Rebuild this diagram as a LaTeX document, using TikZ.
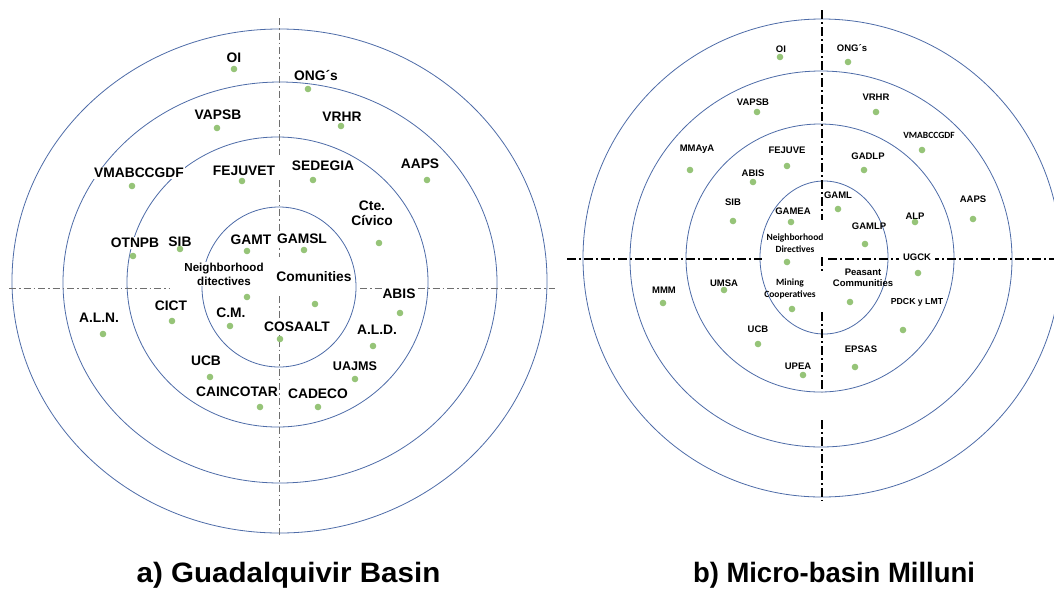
\documentclass[tikz,border=0pt]{standalone}
\usepackage{fontspec}
\setmainfont{Liberation Sans}
\newfontfamily\carl{Carlito}
\definecolor{ringblue}{RGB}{78,108,168}
\definecolor{dotgreen}{RGB}{150,196,120}
\definecolor{axisgray}{RGB}{110,110,110}
\tikzset{
  ring/.style={draw=ringblue, line width=0.8pt},
  axisL/.style={draw=axisgray, line width=0.8pt, dash pattern=on 7pt off 3pt on 1.5pt off 3pt},
  axisR/.style={draw=black, line width=1.2pt, dash pattern=on 9pt off 3pt on 2pt off 3pt},
  lblL/.style={font=\bfseries\fontsize{13.8}{15}\selectfont, fill=white, inner sep=1pt, align=center},
  lblLs/.style={font=\bfseries\fontsize{11.6}{14}\selectfont, fill=white, inner sep=1pt, align=center},
  lblR/.style={font=\bfseries\fontsize{9.5}{11.5}\selectfont, inner sep=1pt, align=center},
  lblRc/.style={font=\carl\bfseries\fontsize{9.5}{12}\selectfont, inner sep=1pt, align=center},
  dotL/.style={circle, fill=dotgreen, inner sep=0pt, minimum size=6.6pt},
  dotR/.style={circle, fill=dotgreen, inner sep=0pt, minimum size=6.6pt},
  ttl/.style={font=\bfseries\fontsize{28}{32}\selectfont, inner sep=0pt, anchor=base}
}
\begin{document}
\begin{tikzpicture}[x=1pt,y=-1pt]
\useasboundingbox (0,0) rectangle (1054,595);
\clip (0,0) rectangle (1054,595);
\fill[white] (0,0) rectangle (1054,595);
% ---------------- left diagram ----------------
\draw[ring] (279.5,281) ellipse [x radius=267.5pt, y radius=252pt];
\draw[ring] (280,282.5) ellipse [x radius=217pt, y radius=200.5pt];
\draw[ring] (277.5,282) ellipse [x radius=150.5pt, y radius=145pt];
\draw[ring] (279,287) ellipse [x radius=77pt, y radius=80pt];
\coordinate (lh1) at (9,288);   \coordinate (lh2) at (170,288);
\coordinate (lh3) at (360,288); \coordinate (lh4) at (555,288);
\coordinate (lv1) at (279,18);  \coordinate (lv2) at (279,155);
\coordinate (lv3) at (279,180); \coordinate (lv4) at (279,257);
\coordinate (lv5) at (279,296); \coordinate (lv6) at (279,538);
\draw[axisL] (lh1) -- (lh2);
\draw[axisL] (lh3) -- (lh4);
\draw[axisL] (lv1) -- (lv2);
\draw[axisL] (lv3) -- (lv4);
\draw[axisL] (lv5) -- (lv6);
\node[lblL] (aOI) at (234,58) {OI};
\node[lblL] (aVAPSB) at (218,115) {VAPSB};
\node[lblL] (aVMAB) at (139,173) {VMABCCGDF};
\node[lblL] (aFEJ) at (244,171) {FEJUVET};
\node[lblL] (aOTN) at (135,243) {OTNPB};
\node[lblL] (aSIB) at (180,242) {SIB};
\node[lblL] (aGAMT) at (251,240) {GAMT};
\node[lblLs] (aNeigh) at (224,274) {Neighborhood\\ditectives};
\node[lblL] (aONG) at (316,76) {ONG´s};
\node[lblL] (aVRHR) at (342,117) {VRHR};
\node[lblL] (aSED) at (323,166) {SEDEGIA};
\node[lblL] (aAAPS) at (420,164) {AAPS};
\node[lblL] (aCte) at (372,213) {Cte.\\Cívico};
\node[lblL] (aGAMSL) at (302,239) {GAMSL};
\node[lblL] (aCom) at (314,277) {Comunities};
\node[lblL] (aABIS) at (399,294) {ABIS};
\node[lblL] (aCOS) at (297,327) {COSAALT};
\node[lblL] (aALD) at (377,330) {A.L.D.};
\node[lblL, font=\bfseries\fontsize{12.6}{14}\selectfont] (aUAJ) at (355,366) {UAJMS};
\node[lblL] (aCAD) at (318,394) {CADECO};
\node[lblL] (aALN) at (99,318) {A.L.N.};
\node[lblL] (aCICT) at (171,306) {CICT};
\node[lblL] (aCM) at (231,313) {C.M.};
\node[lblL] (aUCB) at (206,361) {UCB};
\node[lblL] (aCAIN) at (237,392) {CAINCOTAR};
\foreach \n/\x/\y in {OI/234/69, VAPSB/217/128, VMAB/132/186, FEJ/242/181, OTN/133/256,
  SIB/180/249, GAMT/247/251, Neigh/247/297, ONG/308/89, VRHR/341/126, SED/313/180,
  AAPS/427/180, Cte/379/243, GAMSL/304/250, Com/315/304, ABIS/400/313, COS/280/339,
  ALD/373/346, UAJ/355/379, CAD/318/407, ALN/103/334, CICT/172/321, CM/230/326,
  UCB/210/377, CAIN/260/407}
  \node[dotL] (ad\n) at (\x,\y) {};
\node[ttl] (ta) at (288.5,582) {\scalebox{1.055}[1]{a) Guadalquivir Basin}};
% ---------------- right diagram ----------------
\draw[ring] (822,258) circle [radius=239pt];
\draw[ring] (821,259) ellipse [x radius=191pt, y radius=188pt];
\draw[ring] (820,258) ellipse [x radius=134pt, y radius=134pt];
\draw[ring] (824,257.5) ellipse [x radius=64pt, y radius=76.5pt];
\coordinate (rh1) at (567,259); \coordinate (rh2) at (762,259);
\coordinate (rh3) at (828,259); \coordinate (rh4) at (1054,259);
\coordinate (rv1) at (822,10);  \coordinate (rv2) at (822,220);
\coordinate (rv3) at (822,257); \coordinate (rv4) at (822,272);
\coordinate (rv5) at (822,312); \coordinate (rv6) at (822,392);
\coordinate (rv7) at (822,420); \coordinate (rv8) at (822,501);
\draw[axisR] (rh1) -- (rh2);
\draw[axisR] (rh3) -- (rh4);
\draw[axisR] (rv1) -- (rv2);
\draw[axisR] (rv3) -- (rv4);
\draw[axisR] (rv5) -- (rv6);
\draw[axisR] (rv7) -- (rv8);
\node[lblR] (bOI) at (781,49) {OI};
\node[lblR] (bVAPSB) at (753,102) {VAPSB};
\node[lblR] (bMMA) at (697,149) {MMAyA};
\node[lblR] (bFEJ) at (787,150) {FEJUVE};
\node[lblR] (bABIS) at (753,173) {ABIS};
\node[lblR] (bSIB) at (733,202) {SIB};
\node[lblR] (bGAMEA) at (793,211) {GAMEA};
\node[lblRc] (bNeigh) at (795,243) {Neighborhood\\Directives};
\node[lblR] (bMMM) at (664,290) {MMM};
\node[lblR] (bUMSA) at (724,283) {UMSA};
\node[lblRc] (bMin) at (790,289) {Mining\\Cooperatives};
\node[lblR] (bUCB) at (758,329) {UCB};
\node[lblR] (bUPEA) at (798,366) {UPEA};
\node[lblR] (bONG) at (852,48) {ONG´s};
\node[lblR] (bVRHR) at (876,97) {VRHR};
\node[lblRc] (bVMAB) at (929,135) {VMABCCGDF};
\node[lblR] (bGADLP) at (868,156) {GADLP};
\node[lblR] (bGAML) at (838,195) {GAML};
\node[lblR] (bAAPS) at (973,199) {AAPS};
\node[lblR] (bALP) at (915,216) {ALP};
\node[lblR] (bGAMLP) at (869,226) {GAMLP};
\node[lblR, fill=white, inner xsep=4pt] (bUGCK) at (917,257) {UGCK};
\node[lblR] (bPeas) at (863,278) {Peasant\\Communities};
\node[lblR, font=\bfseries\fontsize{8.7}{10}\selectfont] (bPDCK) at (917,302) {PDCK y LMT};
\node[lblR] (bEPSAS) at (861,349) {EPSAS};
\foreach \n/\x/\y in {OI/780/57, VAPSB/757/112, MMA/690/170, FEJ/787/166, ABIS/753/182,
  SIB/733/221, GAMEA/791/222, Neigh/787/262, MMM/663/303, UMSA/724/290, Min/792/309,
  UCB/758/344, UPEA/803/375, ONG/848/62, VRHR/876/112, VMAB/922/150, GADLP/864/170,
  GAML/838/209, AAPS/973/219, ALP/915/222, GAMLP/865/244, UGCK/918/273, Peas/850/302,
  PDCK/903/330, EPSAS/855/367}
  \node[dotR] (bd\n) at (\x,\y) {};
\node[ttl] (tb) at (834,582) {\scalebox{0.98}[1]{b) Micro-basin Milluni}};
\end{tikzpicture}
\end{document}
